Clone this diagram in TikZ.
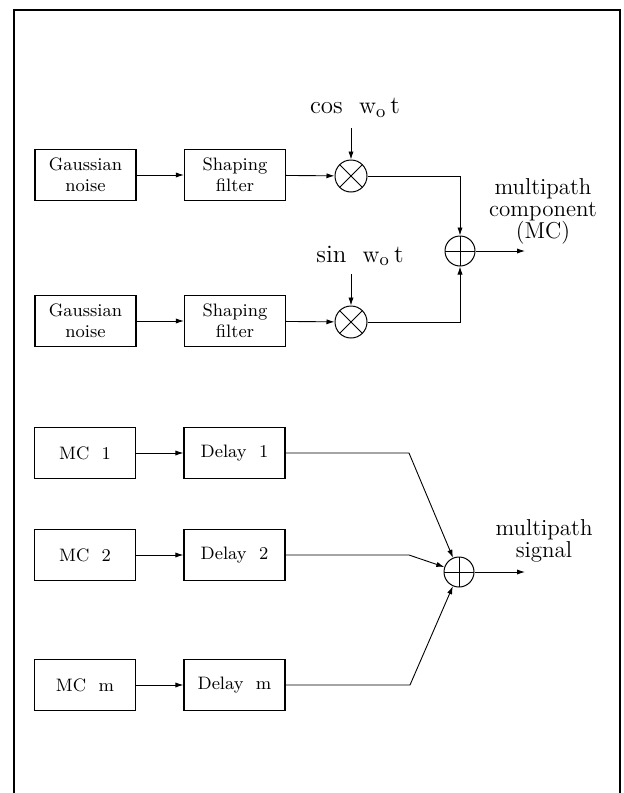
\documentclass[tikz,border=0pt]{standalone}
\usetikzlibrary{arrows.meta}
\begin{document}
\begin{tikzpicture}[x=0.5pt,y=-0.5pt,
  blk/.style={draw,line width=0.6pt,minimum width=50.5pt,minimum height=25.5pt,inner sep=0pt,align=center,font=\fontsize{9}{10.5}\selectfont},
  mixer/.style={draw,circle,line width=0.5pt,minimum size=16pt,inner sep=0pt,
    path picture={\draw[line width=0.45pt] (path picture bounding box.south west) -- (path picture bounding box.north east)
      (path picture bounding box.north west) -- (path picture bounding box.south east);}},
  summer/.style={draw,circle,line width=0.5pt,minimum size=15pt,inner sep=0pt,
    path picture={\draw[line width=0.45pt] (path picture bounding box.south) -- (path picture bounding box.north)
      (path picture bounding box.west) -- (path picture bounding box.east);}},
  conn/.style={line width=0.45pt},
  arr/.style={conn,-{Latex[length=4pt,width=2.6pt]}},
  lbl/.style={font=\fontsize{12.5}{14}\selectfont,inner sep=0pt},
  outlbl/.style={font=\fontsize{11.5}{11}\selectfont,align=center,inner sep=0pt}
]
\useasboundingbox (0,0) rectangle (623,793);
% frame
\draw[line width=1pt] (14,793) -- (14,10) -- (620,10) -- (620,793);

% upper part
\node[blk] (g1) at (85.5,175) {Gaussian\\noise};
\node[blk] (f1) at (235,175) {Shaping\\filter};
\node[mixer] (m1) at (351,176) {};
\node[blk] (g2) at (85.5,321) {Gaussian\\noise};
\node[blk] (f2) at (235,321) {Shaping\\filter};
\node[mixer] (m2) at (351,322) {};
\node[summer] (s1) at (460,251) {};
\node[lbl] (cosl) at (355,108) {cos\ \ \(\mathrm{w}_{\mathrm{o}}\)\,t};
\node[lbl] (sinl) at (360,256) {sin\ \ \(\mathrm{w}_{\mathrm{o}}\)\,t};
\coordinate (c1) at (351,128);
\coordinate (c2) at (351,274);
\coordinate (o1) at (525,251);
\node[outlbl] (mcl) at (543,211) {multipath\\component\\(MC)};

\draw[arr] (g1) -- (f1);
\draw[arr] (f1) -- (m1);
\draw[arr] (g2) -- (f2);
\draw[arr] (f2) -- (m2);
\draw[arr] (c1) -- (m1);
\draw[arr] (c2) -- (m2);
\draw[arr] (m1.east) -| (s1.north);
\draw[arr] (m2.east) -| (s1.south);
\draw[arr] (s1) -- (o1);

% lower part
\node[blk] (mc1) at (85,453) {MC\ \ 1};
\node[blk] (d1) at (234.5,453) {Delay\ \ 1};
\node[blk] (mc2) at (85,555) {MC\ \ 2};
\node[blk] (d2) at (234.5,555) {Delay\ \ 2};
\node[blk] (mcm) at (85,685) {MC\ \ m};
\node[blk] (dm) at (234.5,685) {Delay\ \ m};
\node[summer] (s2) at (459,572) {};
\coordinate (k1) at (409,453);
\coordinate (k2) at (409,555);
\coordinate (k3) at (410,685);
\coordinate (o2) at (525,572);
\node[outlbl] (msl) at (544,541) {multipath\\signal};

\draw[arr] (mc1) -- (d1);
\draw[arr] (mc2) -- (d2);
\draw[arr] (mcm) -- (dm);
\draw[arr] (d1.east) -- (k1) -- (s2);
\draw[arr] (d2.east) -- (k2) -- (s2);
\draw[arr] (dm.east) -- (k3) -- (s2);
\draw[arr] (s2) -- (o2);
\end{tikzpicture}
\end{document}
